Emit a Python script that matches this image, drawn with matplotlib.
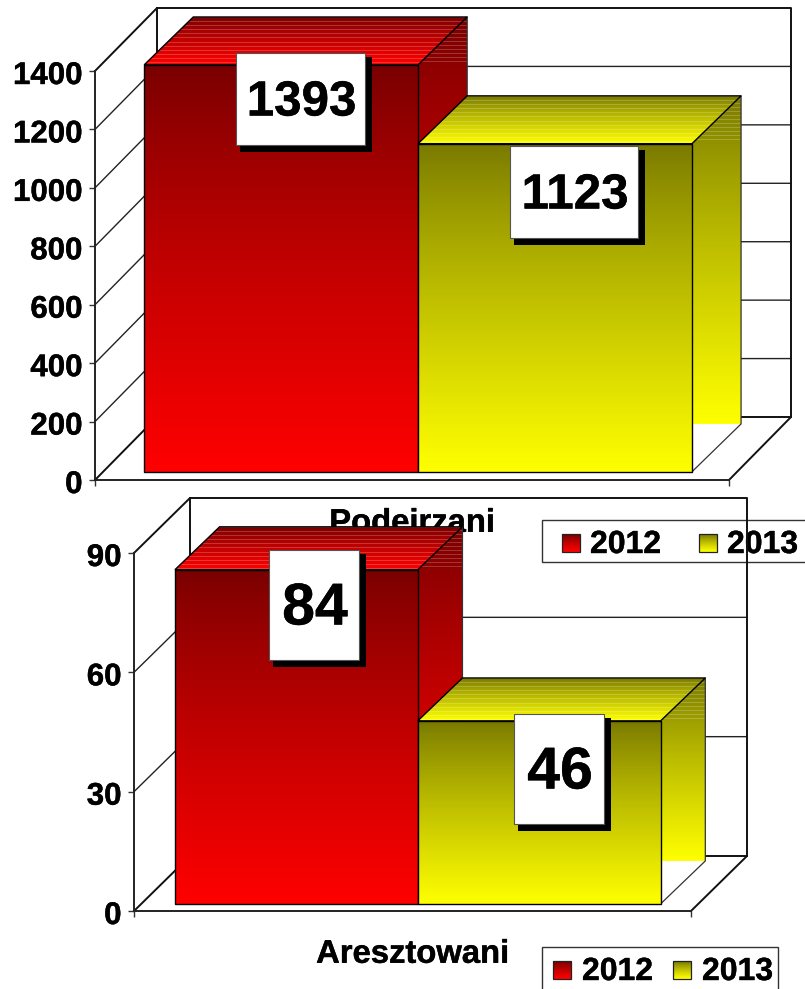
import numpy as np
import matplotlib
matplotlib.use('Agg')
import matplotlib.pyplot as plt
import matplotlib.patheffects as pe
from matplotlib.patches import Polygon, Rectangle
from matplotlib.text import Text
from matplotlib.transforms import ScaledTranslation

plt.rcParams['font.family'] = ['Liberation Sans', 'DejaVu Sans']
plt.rcParams['font.weight'] = 'bold'

#data
years = ['2012', '2013']
categories_top = ['Podeirzani']
values_top = [1393, 1123]
ticks_top = [0, 200, 400, 600, 800, 1000, 1200, 1400]
categories_bottom = ['Aresztowani']
values_bottom = [84, 46]
ticks_bottom = [0, 30, 60, 90]

W, H = 805, 989
RED = np.array([255, 0, 0]) / 255
YELLOW = np.array([255, 255, 0]) / 255
bar_colors = [RED, YELLOW]

fig = plt.figure(figsize=(W / 100, H / 100), dpi=100, facecolor='white')


def shade(col, n, dark=0.47, stripe_rows=0):
    #n rows going from dark on top to the full colour at the bottom
    n = max(int(n), 2)
    t = np.linspace(0, 1, n)[:, None] ** 0.85
    arr = (dark + (1 - dark) * t) * col
    for i in range(0, stripe_rows, 4):
        arr[i] = arr[i] + 0.2 * (1 - arr[i])
    return arr[:, None, :]


def add_axes_px(left, right, y0, y1, z):
    ax = fig.add_axes([left / W, (H - y0) / H, (right - left) / W, (y0 - y1) / H], zorder=z)
    ax.patch.set_alpha(0)
    return ax


def draw_chart(ax, values, ticks, category, depth_px, d1, d2, bar_w, labelpad, back_px):
    ymax = ticks[-1]
    box = ax.get_window_extent()
    px_y = ymax / box.height
    dx = depth_px[0] / box.width
    dy = depth_px[1] * px_y
    mid = 0.5 - 2 / box.width
    extra = back_px / box.width

    def pt(x, v, d):
        return (x + d * dx, v + d * dy)

    def back(x, v):
        return (x + d2 * dx + extra, v + d2 * dy)

    def face(x0, x1, v0, v1, pts, z, stripe_to=None):
        #gradient image cut out by a polygon
        rows = (v1 - v0) / px_y
        stripes = 0
        if stripe_to is not None:
            stripes = int((v1 - stripe_to) / px_y)
        im = ax.imshow(shade(col, rows, stripe_rows=stripes), extent=(x0, x1, v0, v1),
                       aspect='auto', interpolation='nearest', zorder=z)
        im.set_clip_box(fig.bbox)
        im.set_clip_path(Polygon(pts, transform=ax.transData))

    def outline(pts, z, lw=1.0):
        ax.add_patch(Polygon(pts, closed=True, fill=False, edgecolor='black', lw=lw,
                             clip_on=False, zorder=z))

    #walls and grid
    wall = dict(color='#111111', lw=1.4, clip_on=False, zorder=1)
    thin = dict(color='#222222', lw=1.0, clip_on=False, zorder=1)
    for t in ticks[1:-1]:
        ax.plot(*zip(pt(0, t, 0), pt(0, t, 1), pt(1, t, 1)), **thin)
    ax.plot(*zip(pt(0, 0, 0), pt(0, 0, 1), pt(1, 0, 1), pt(1, 0, 0)), **wall)
    ax.plot(*zip(pt(0, ymax, 0), pt(0, ymax, 1), pt(1, ymax, 1), pt(1, 0, 1)), **wall)
    ax.plot(*zip(pt(0, 0, 1), pt(0, ymax, 1)), **wall)

    #bars, left one first so the right one lies over its side
    for i, v in enumerate(values):
        col = bar_colors[i]
        z = 3 + i * 3
        x0 = mid - bar_w + i * bar_w
        x1 = x0 + bar_w
        fa = pt(x0, 0, d1)
        fb = pt(x1, v, d1)
        bb = back(x1, v)

        top = [pt(x0, v, d1), pt(x1, v, d1), bb, back(x0, v)]
        face(fa[0], bb[0], fb[1], bb[1], top, z, stripe_to=fb[1])

        side = [pt(x1, v, d1), bb, back(x1, 0), (fb[0], back(x1, 0)[1])]
        face(fb[0], bb[0], back(x1, 0)[1], bb[1], side, z, stripe_to=fb[1])
        ax.plot(*zip(pt(x1, 0, d1), back(x1, 0), bb), color='#333333', lw=0.9,
                clip_on=False, zorder=z + 1)

        front = [pt(x0, 0, d1), pt(x1, 0, d1), fb, pt(x0, v, d1)]
        face(fa[0], fb[0], fa[1], fb[1], front, z + 1)
        outline(front, z + 2)
        outline(top, z + 2)

    ax.set_xlim(0, 1)
    ax.set_ylim(0, ymax)
    ax.set_yticks(ticks)
    ax.set_xticks([0, 1])
    ax.set_xticklabels(['', ''])
    ax.tick_params(axis='both', direction='out', length=4.5, width=1, color='#333333')
    ax.tick_params(axis='y', labelsize=22.5, pad=4.5)
    ax.set_xlabel(category[0], fontsize=23.6, fontweight='bold', labelpad=labelpad)
    nudge = ScaledTranslation(0, -1.5 / 100, fig.dpi_scale_trans)
    for label in ax.get_yticklabels():
        label.set_transform(label.get_transform() + nudge)
    ax.spines['top'].set_visible(False)
    ax.spines['right'].set_visible(False)
    for s in ['left', 'bottom']:
        ax.spines[s].set_linewidth(1.4)
        ax.spines[s].set_color('#222222')
        ax.spines[s].set_zorder(2)


def legend(ov, x0, x1, y0, y1, swatches, texts):
    ov.add_patch(Rectangle((x0, y0), x1 - x0, y1 - y0, fc='white', ec='#333333', lw=1, clip_on=True))
    for sx, tx, col, label in zip(swatches, texts, bar_colors, years):
        sy = y0 + 14
        ov.imshow(shade(col, 18), extent=(sx, sx + 18, sy + 18, sy), aspect='auto',
                  interpolation='nearest', zorder=3)
        ov.add_patch(Rectangle((sx, sy), 18, 18, fill=False, ec='#222222', lw=0.9, zorder=4))
        ov.text(tx, sy + 11, label, fontsize=23, fontweight='bold', va='center', ha='left', zorder=4)


def value_box(ov, x0, x1, y0, y1, label, size):
    ov.add_patch(Rectangle((x0 + 4, y0 + 4), x1 - x0 + 3, y1 - y0 + 3, fc='black', ec='black', lw=0))
    ov.add_patch(Rectangle((x0, y0), x1 - x0, y1 - y0, fc='white', ec='#555555', lw=0.8))
    ov.text((x0 + x1) / 2 + 1, (y0 + y1) / 2 + 4, str(label), fontsize=size, fontweight='bold',
            ha='center', va='center')


def overlay(z):
    ov = fig.add_axes([0, 0, 1, 1], zorder=z)
    ov.axis('off')
    ov.patch.set_alpha(0)
    return ov


ax_top = add_axes_px(95, 729, 480, 71, 1)
ax_bottom = add_axes_px(134, 691, 911, 553, 3)
draw_chart(ax_top, values_top, ticks_top, categories_top, (62, 63), 0.13, 0.89, 0.432, 12, 2)
draw_chart(ax_bottom, values_bottom, ticks_bottom, categories_bottom, (56, 55), 0.13, 0.91, 0.436, 12, 1)

#legends sit under the lower chart's walls, value boxes over everything
ov_low = overlay(2)
legend(ov_low, 542, 830, 520, 562, [562, 699], [590, 727])
legend(ov_low, 542, 778, 947, 1010, [553, 673], [582, 702])
ov_low.set_xlim(0, W)
ov_low.set_ylim(H, 0)

ov_high = overlay(4)
value_box(ov_high, 236, 365, 53, 145, values_top[0], 35.5)
value_box(ov_high, 510, 638, 146, 238, values_top[1], 35.5)
value_box(ov_high, 269, 359, 550, 660, values_bottom[0], 42.5)
value_box(ov_high, 514, 604, 714, 824, values_bottom[1], 42.5)
ov_high.set_xlim(0, W)
ov_high.set_ylim(H, 0)

#the original text is a bit heavier than the bold face
for t in fig.findobj(Text):
    t.set_path_effects([pe.withStroke(linewidth=0.3, foreground='black')])

fig.savefig('out.png', dpi=100)
